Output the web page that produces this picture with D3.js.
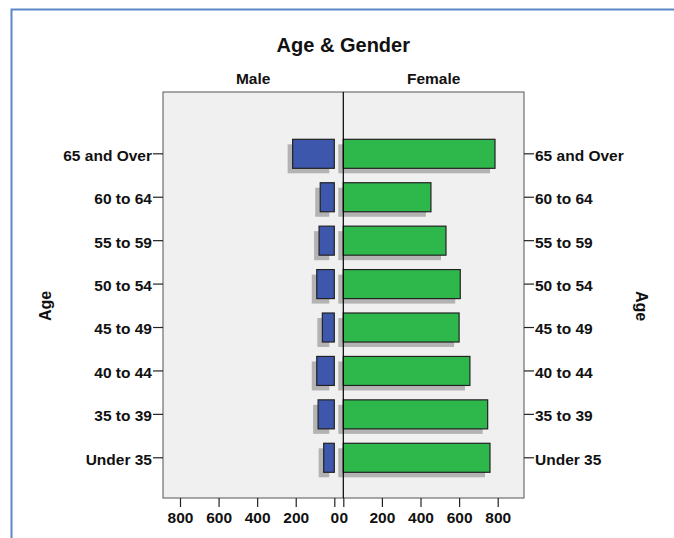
<!DOCTYPE html>
<html>
<head>
<meta charset="utf-8">
<script src="https://cdn.jsdelivr.net/npm/d3@7"></script>
<style>
    body { margin: 0; background: #fff; }
    svg text { font-family: "Liberation Sans", Arial, sans-serif; font-weight: bold; fill: #111; }
</style>
</head>
<body>
<div id="chart"></div>
<script>
const ageGroups = ["65 and Over", "60 to 64", "55 to 59", "50 to 54", "45 to 49", "40 to 44", "35 to 39", "Under 35"]
const maleCounts = [216, 73, 79, 91, 62, 91, 84, 55]
const femaleCounts = [786, 454, 532, 606, 600, 656, 748, 760]
const countTicks = [0, 200, 400, 600, 800]

const _WIDTH = 674
const _HEIGHT = 538
const _PANEL = { left: 163, right: 524, top: 92, bottom: 498, mid: 343.3 }
const _SHADOW = { dx: -5, dy: 5 }

const svg = d3.select("#chart")
    .append("svg")
    .attr("width", _WIDTH)
    .attr("height", _HEIGHT)

// Frame
// ===================================
svg.append("path")
    .attr("d", `M11.5,${_HEIGHT} V9.5 H${_WIDTH}`)
    .attr("fill", "none")
    .attr("stroke", "#5b87c5")
    .attr("stroke-width", 2)

// Scales
// ===================================
const yScale = d3.scaleBand()
    .domain(ageGroups)
    .range([132.1, 479.5])
    .paddingInner(0.332)
    .paddingOuter(0.166)
const xMale = d3.scaleLinear().domain([0, 800]).range([334.3, 180])
const xFemale = d3.scaleLinear().domain([0, 800]).range([_PANEL.mid, 497.7])

// Panel
// ===================================
svg.append("rect")
    .attr("x", _PANEL.left)
    .attr("y", _PANEL.top)
    .attr("width", _PANEL.right - _PANEL.left)
    .attr("height", _PANEL.bottom - _PANEL.top)
    .attr("fill", "#f0f0f0")
    .attr("stroke", "#555")
    .attr("stroke-width", 1)

// Bars (shadow first)
// ===================================
const rows = ageGroups.map((g, i) => ({ group: g, male: maleCounts[i], female: femaleCounts[i] }))

const shadows = svg.append("g").attr("class", "shadows").attr("fill", "#b3b3b3")
shadows.selectAll("rect.male")
    .data(rows)
    .join("rect")
    .attr("class", "male")
    .attr("x", d => xMale(d.male) + _SHADOW.dx)
    .attr("y", d => yScale(d.group) + _SHADOW.dy)
    .attr("width", d => xMale(0) - xMale(d.male))
    .attr("height", yScale.bandwidth())
shadows.selectAll("rect.female")
    .data(rows)
    .join("rect")
    .attr("class", "female")
    .attr("x", xFemale(0) + _SHADOW.dx)
    .attr("y", d => yScale(d.group) + _SHADOW.dy)
    .attr("width", d => xFemale(d.female) - xFemale(0))
    .attr("height", yScale.bandwidth())

const bars = svg.append("g").attr("class", "bars").attr("stroke", "#222").attr("stroke-width", 1.2)
bars.selectAll("rect.male")
    .data(rows)
    .join("rect")
    .attr("class", "male")
    .attr("fill", "#3d57ad")
    .attr("x", d => xMale(d.male))
    .attr("y", d => yScale(d.group))
    .attr("width", d => xMale(0) - xMale(d.male))
    .attr("height", yScale.bandwidth())
bars.selectAll("rect.female")
    .data(rows)
    .join("rect")
    .attr("class", "female")
    .attr("fill", "#2eb84b")
    .attr("x", xFemale(0))
    .attr("y", d => yScale(d.group))
    .attr("width", d => xFemale(d.female) - xFemale(0))
    .attr("height", yScale.bandwidth())

// Divider
svg.append("line")
    .attr("x1", _PANEL.mid).attr("x2", _PANEL.mid)
    .attr("y1", _PANEL.top).attr("y2", _PANEL.bottom)
    .attr("stroke", "#000")
    .attr("stroke-width", 1.2)

// Axes
// ===================================
const styleAxis = (g) => {
    g.select(".domain").remove()
    g.selectAll(".tick line").attr("stroke", "#222").attr("stroke-width", 1.2)
    g.selectAll(".tick text").attr("font-size", 15.5).attr("fill", "#111")
        .attr("font-family", "'Liberation Sans', Arial, sans-serif").attr("font-weight", "bold")
}

svg.append("g")
    .attr("transform", `translate(0,${_PANEL.bottom})`)
    .call(d3.axisBottom(xMale).tickValues(countTicks).tickSize(9).tickPadding(5))
    .call(styleAxis)
svg.append("g")
    .attr("transform", `translate(0,${_PANEL.bottom})`)
    .call(d3.axisBottom(xFemale).tickValues(countTicks).tickSize(9).tickPadding(5))
    .call(styleAxis)
svg.append("g")
    .attr("transform", `translate(${_PANEL.left},0)`)
    .call(d3.axisLeft(yScale).tickSize(10).tickPadding(1))
    .call(styleAxis)
    .selectAll(".tick text").attr("dy", "0.45em")
svg.append("g")
    .attr("transform", `translate(${_PANEL.right},0)`)
    .call(d3.axisRight(yScale).tickSize(10).tickPadding(1))
    .call(styleAxis)
    .selectAll(".tick text").attr("dy", "0.45em")

// Titles
// ===================================
svg.append("text")
    .attr("x", _PANEL.mid)
    .attr("y", 52)
    .attr("text-anchor", "middle")
    .attr("font-size", 20)
    .text("Age & Gender")
svg.append("text")
    .attr("x", (_PANEL.left + _PANEL.mid) / 2)
    .attr("y", 84)
    .attr("text-anchor", "middle")
    .attr("font-size", 15.5)
    .text("Male")
svg.append("text")
    .attr("x", (_PANEL.mid + _PANEL.right) / 2)
    .attr("y", 84)
    .attr("text-anchor", "middle")
    .attr("font-size", 15.5)
    .text("Female")
svg.append("text")
    .attr("transform", "translate(51,306)rotate(-90)")
    .attr("text-anchor", "middle")
    .attr("font-size", 16)
    .text("Age")
svg.append("text")
    .attr("transform", "translate(636,306)rotate(90)")
    .attr("text-anchor", "middle")
    .attr("font-size", 16)
    .text("Age")
</script>
</body>
</html>
